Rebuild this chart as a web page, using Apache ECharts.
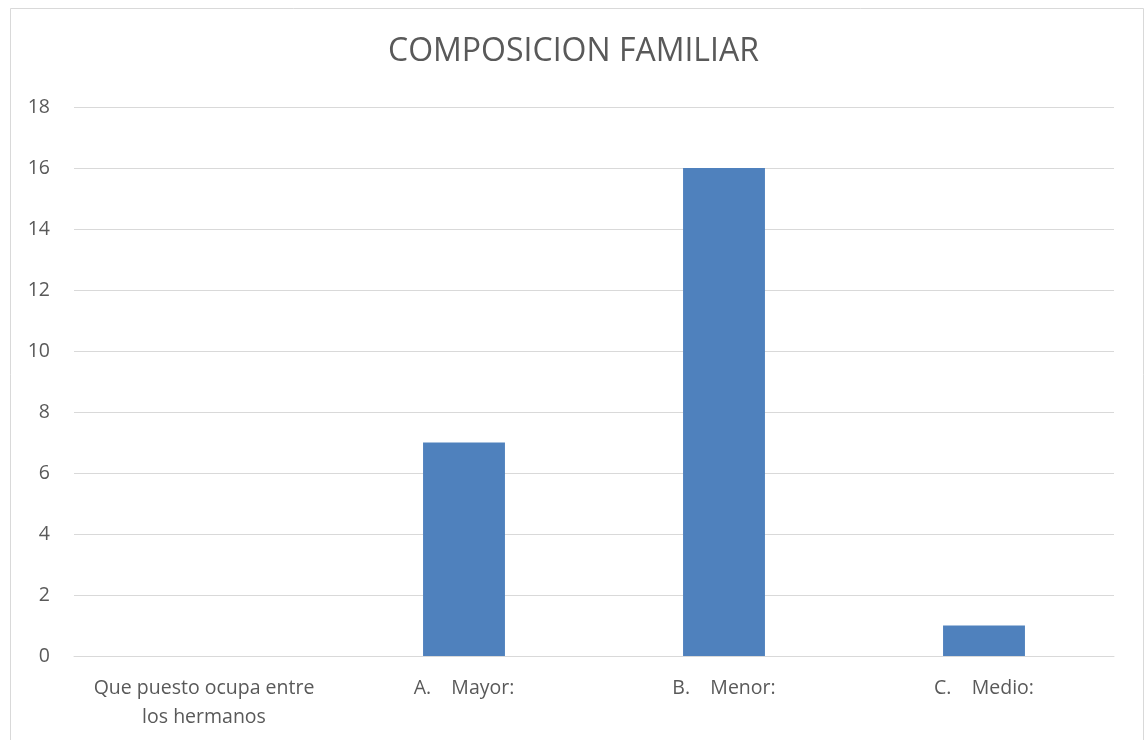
<!DOCTYPE html>
<html>
<head>
<meta charset="utf-8">
<script src="https://cdn.jsdelivr.net/npm/echarts@6/dist/echarts.min.js"></script>
<style>
  html, body { margin: 0; padding: 0; background: #fff; }
  #chart { width: 1147px; height: 740px; }
</style>
</head>
<body>
<div id="chart"></div>
<script>
// chart data
let categories = ['Que puesto ocupa entre\nlos hermanos', 'A.    Mayor:', 'B.    Menor:', 'C.    Medio:'];
let values = [null, 7, 16, 1];
let yTicks = { min: 0, max: 18, step: 2 };

let myChart = echarts.init(document.getElementById('chart'));
window.onresize = function () {
    myChart.resize();
}
let option = {
    backgroundColor: '#ffffff',
    textStyle: { fontFamily: 'Open Sans' },
    title: {
        text: 'COMPOSICION FAMILIAR',
        left: 'center',
        top: 31,
        textStyle: { fontFamily: 'Open Sans', fontSize: 32, fontWeight: 'normal', color: '#595959' }
    },
    graphic: [
        {
            type: 'rect',
            shape: { x: 10.5, y: 8.5, width: 1133, height: 740 },
            style: { fill: 'none', stroke: '#d9d9d9', lineWidth: 1 },
            silent: true
        }
    ],
    grid: { left: 74, right: 33, top: 107, bottom: 84 },
    xAxis: {
        type: 'category',
        data: categories,
        axisLine: { lineStyle: { color: '#d9d9d9', width: 1 } },
        axisTick: { show: false },
        axisLabel: {
            color: '#595959',
            fontSize: 19.5,
            lineHeight: 29,
            margin: 18,
            interval: 0
        }
    },
    yAxis: {
        type: 'value',
        min: yTicks.min,
        max: yTicks.max,
        interval: yTicks.step,
        axisLine: { show: false },
        axisTick: { show: false },
        axisLabel: { color: '#595959', fontSize: 19.5, margin: 24 },
        splitLine: { lineStyle: { color: '#d9d9d9', width: 1 } }
    },
    series: [
        {
            type: 'bar',
            data: values,
            barWidth: '31.5%',
            itemStyle: { color: '#4f81bd' },
            animation: false
        }
    ]
};
myChart.setOption(option);
</script>
</body>
</html>
